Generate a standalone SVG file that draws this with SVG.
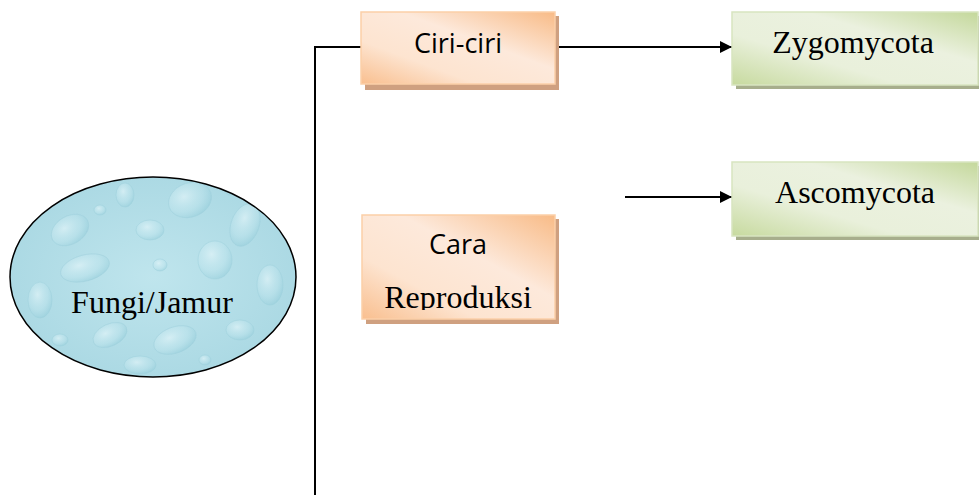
<svg xmlns="http://www.w3.org/2000/svg" width="979" height="495" viewBox="0 0 979 495">
  <defs>
    <linearGradient id="orangeFill" x1="0" y1="1" x2="1" y2="0">
      <stop offset="0" stop-color="#f9bf8f"/>
      <stop offset="0.3" stop-color="#fde4d0"/>
      <stop offset="0.6" stop-color="#fde9db"/>
      <stop offset="1" stop-color="#f8bb87"/>
    </linearGradient>
    <linearGradient id="greenFill" x1="0" y1="1" x2="1" y2="0">
      <stop offset="0" stop-color="#c7da9f"/>
      <stop offset="0.35" stop-color="#e9f0db"/>
      <stop offset="0.65" stop-color="#ebf1df"/>
      <stop offset="1" stop-color="#c4d89b"/>
    </linearGradient>
    <radialGradient id="waterFill" cx="0.5" cy="0.5" r="0.6">
      <stop offset="0" stop-color="#bfe5ed"/>
      <stop offset="1" stop-color="#a8d7e2"/>
    </radialGradient>
    <radialGradient id="drop" cx="0.4" cy="0.35" r="0.7">
      <stop offset="0" stop-color="#e3f5f9" stop-opacity="0.7"/>
      <stop offset="0.6" stop-color="#c3e7ef" stop-opacity="0.4"/>
      <stop offset="1" stop-color="#8cc8d6" stop-opacity="0.5"/>
    </radialGradient>
    <clipPath id="ovalClip">
      <ellipse cx="153" cy="277" rx="143" ry="100"/>
    </clipPath>
    <clipPath id="caraClip">
      <rect x="362" y="215" width="193" height="95"/>
    </clipPath>
    <marker id="arrow" viewBox="0 0 10 10" refX="10" refY="5" markerWidth="15" markerHeight="12" markerUnits="userSpaceOnUse" orient="auto">
      <path d="M0,0 L10,5 L0,10 Z" fill="#000"/>
    </marker>
  </defs>
  <style>
    .shadowO { fill: #cfa080; }
    .shadowG { fill: #a7ae8c; }
    .boxO { fill: url(#orangeFill); stroke: #fbcfa8; stroke-width: 1.5; }
    .boxG { fill: url(#greenFill); stroke: #d8e5c0; stroke-width: 1.5; }
    .sans { font-family: "Open Sans", "Liberation Sans", sans-serif; font-size: 27px; fill: #000; text-anchor: middle; }
    .serif { font-family: "Liberation Serif", serif; font-size: 32px; fill: #000; text-anchor: middle; }
    .line { stroke: #000; stroke-width: 2; fill: none; }
    .arrowLine { stroke: #000; stroke-width: 2; fill: none; }
  </style>

  <!-- connectors -->
  <g id="connectors">
    <polyline class="line" points="362,47 315,47 315,495"/>
    <line class="line" x1="555" y1="47" x2="626" y2="47" stroke-width="1.5"/>
    <line class="arrowLine" x1="625" y1="47" x2="732" y2="47" marker-end="url(#arrow)"/>
    <line class="arrowLine" x1="625" y1="197" x2="732" y2="197" marker-end="url(#arrow)"/>
  </g>

  <!-- root oval with water-drop texture -->
  <g id="fungi">
    <ellipse cx="153" cy="277" rx="143" ry="100" fill="url(#waterFill)"/>
    <g clip-path="url(#ovalClip)" fill="url(#drop)" stroke="#9fd0dc" stroke-width="0.5">
      <ellipse cx="70" cy="230" rx="20" ry="14" transform="rotate(-30 70 230)"/>
      <ellipse cx="125" cy="195" rx="9" ry="12"/>
      <ellipse cx="190" cy="200" rx="22" ry="17" transform="rotate(-20 190 200)"/>
      <ellipse cx="245" cy="225" rx="14" ry="22" transform="rotate(20 245 225)"/>
      <ellipse cx="150" cy="230" rx="14" ry="10"/>
      <ellipse cx="85" cy="268" rx="25" ry="13" transform="rotate(-15 85 268)"/>
      <ellipse cx="215" cy="260" rx="17" ry="19"/>
      <ellipse cx="270" cy="285" rx="13" ry="20"/>
      <ellipse cx="40" cy="300" rx="12" ry="18"/>
      <ellipse cx="110" cy="335" rx="18" ry="11" transform="rotate(-25 110 335)"/>
      <ellipse cx="175" cy="340" rx="22" ry="13" transform="rotate(-20 175 340)"/>
      <ellipse cx="240" cy="330" rx="14" ry="10"/>
      <ellipse cx="140" cy="365" rx="16" ry="9"/>
      <ellipse cx="60" cy="340" rx="8" ry="6"/>
      <ellipse cx="100" cy="210" rx="6" ry="5"/>
      <ellipse cx="160" cy="265" rx="7" ry="6"/>
      <ellipse cx="230" cy="190" rx="5" ry="5"/>
      <ellipse cx="205" cy="360" rx="6" ry="5"/>
    </g>
    <ellipse cx="153" cy="277" rx="143" ry="100" fill="none" stroke="#000" stroke-width="1.5"/>
    <text class="serif" x="152" y="313">Fungi/Jamur</text>
  </g>

  <g id="ciri-ciri">
    <rect class="shadowO" x="365" y="16" width="194" height="74"/>
    <rect class="boxO" x="361" y="12" width="194" height="72"/>
    <text class="sans" x="458" y="53">Ciri-ciri</text>
  </g>

  <g id="cara-reproduksi">
    <rect class="shadowO" x="366" y="219" width="193" height="105"/>
    <rect class="boxO" x="362" y="215" width="193" height="104"/>
    <text class="sans" x="458" y="254">Cara</text>
    <g clip-path="url(#caraClip)">
      <text class="serif" x="458" y="308">Reproduksi</text>
    </g>
  </g>

  <g id="zygomycota">
    <rect class="shadowG" x="736" y="16" width="243" height="73"/>
    <rect class="boxG" x="732" y="12" width="246" height="73"/>
    <text class="serif" x="853" y="53">Zygomycota</text>
  </g>

  <g id="ascomycota">
    <rect class="shadowG" x="736" y="166" width="243" height="74"/>
    <rect class="boxG" x="732" y="162" width="246" height="74"/>
    <text class="serif" x="855" y="203">Ascomycota</text>
  </g>
</svg>
